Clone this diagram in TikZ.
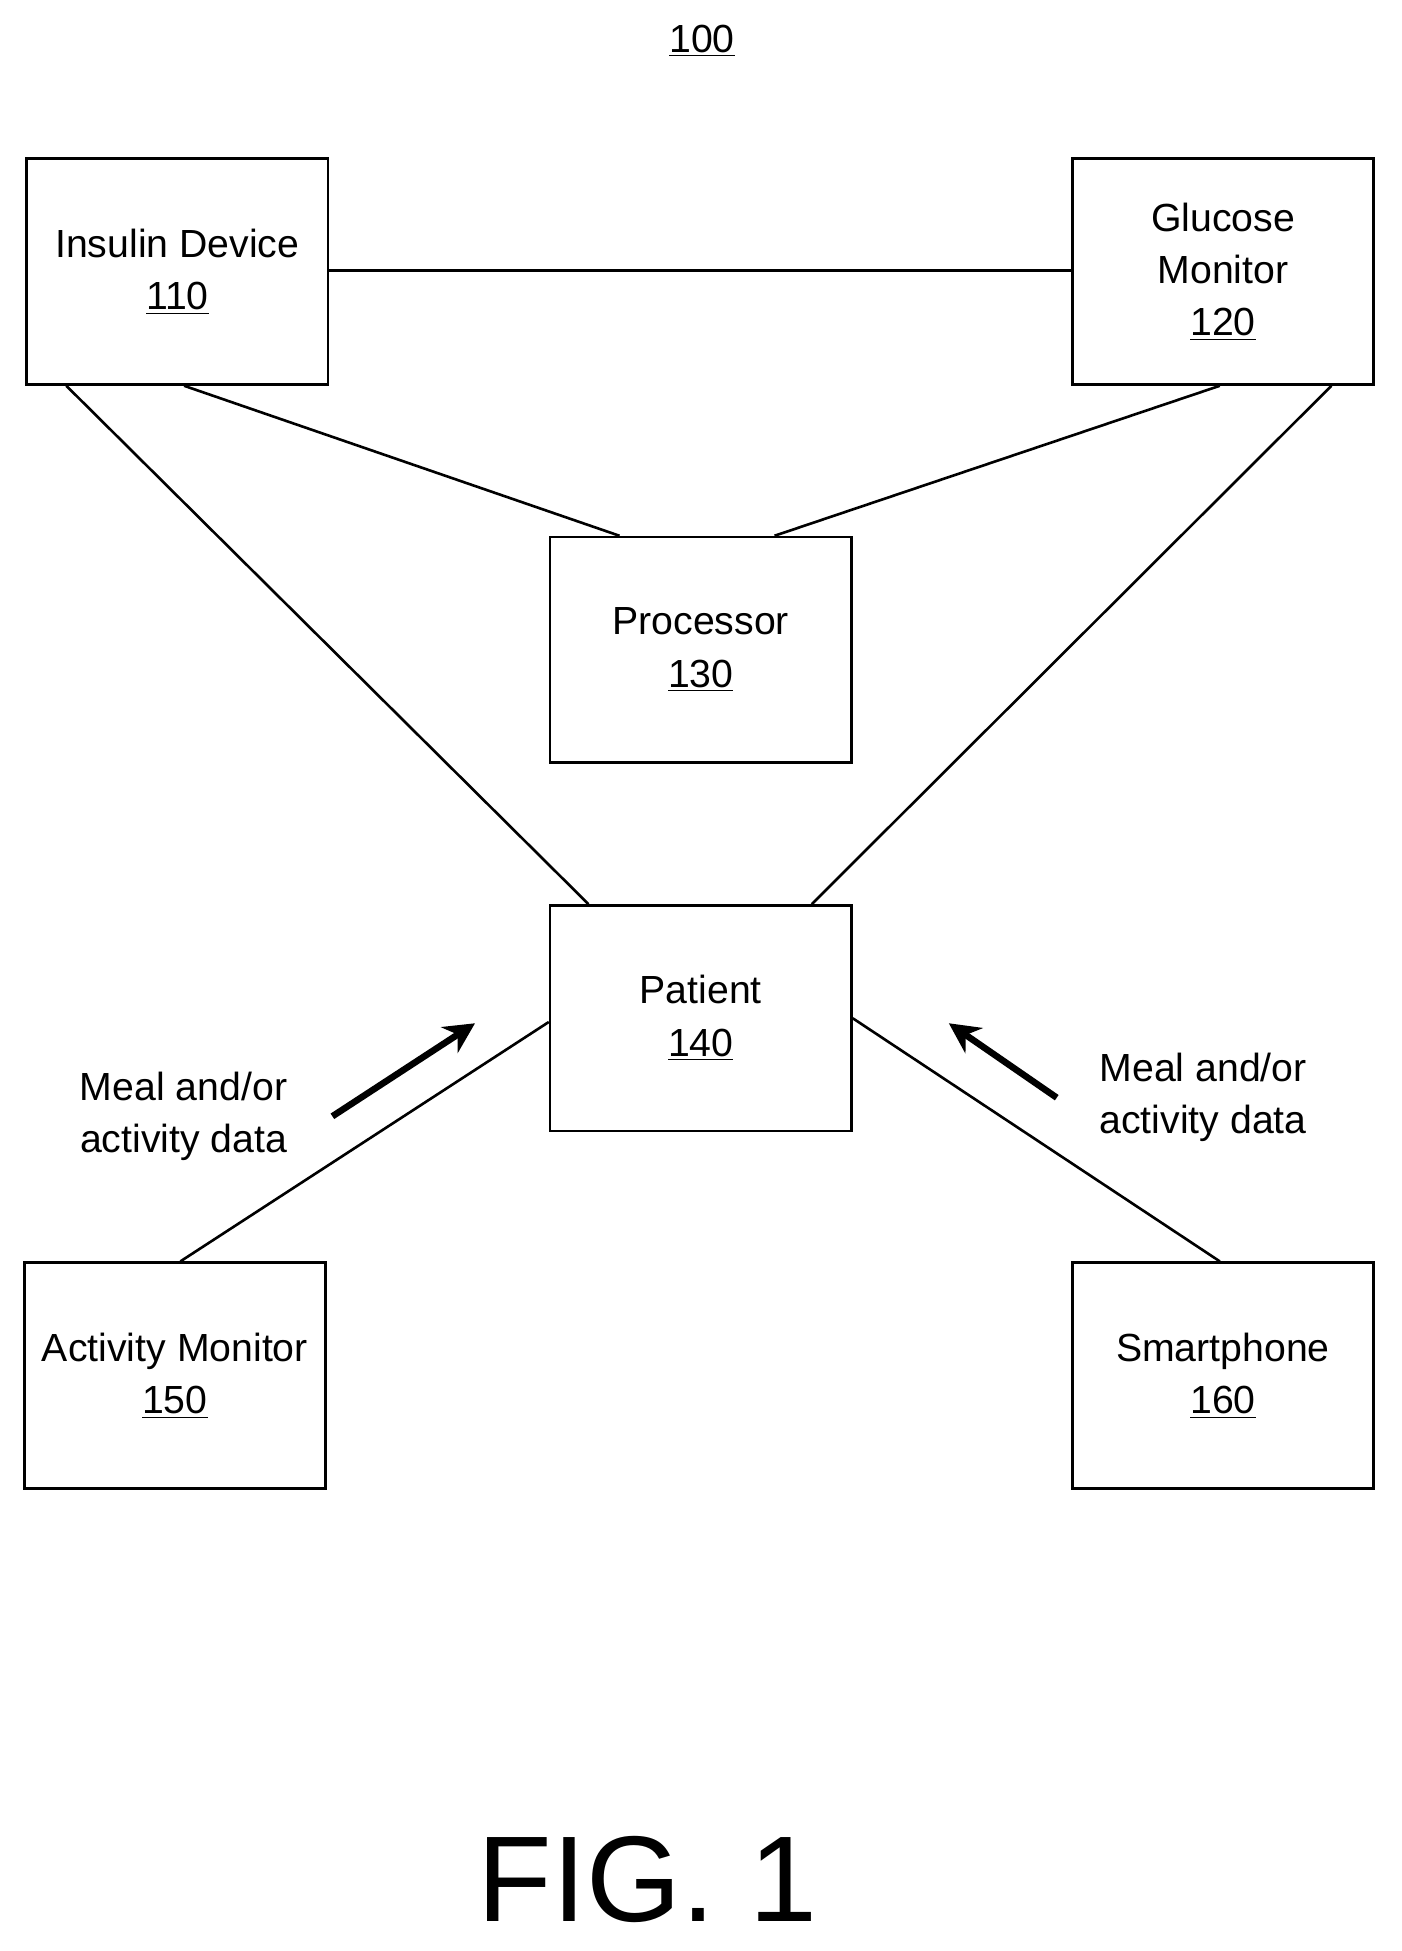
\documentclass[tikz,border=0pt]{standalone}
\usepackage{fontspec}
\setmainfont{Liberation Sans}
\usetikzlibrary{calc,arrows.meta}
\begin{document}
\begin{tikzpicture}[x=0.02cm,y=-0.02cm,
    box/.style={draw,line width=1.2pt,minimum width=4.86cm,minimum height=3.64cm,align=center,font=\fontsize{18}{24}\selectfont},
    link/.style={line width=1.2pt},
    flow/.style={line width=3pt,-{Stealth[length=14pt,width=14pt]}},
    note/.style={align=center,font=\fontsize{18}{24}\selectfont}]
            \useasboundingbox (0,0) rectangle (1130,1573);
            \node (T) at (566,33) {\fontsize{18}{22}\selectfont\underline{100}};
            \node[box] (Ins) at (143,219) {Insulin Device\\\underline{110}};
            \node[box] (Glu) at (986,219) {Glucose\\Monitor\\\underline{120}};
            \node[box] (Proc) at (565,524) {Processor\\\underline{130}};
            \node[box] (Pat) at (565,821) {Patient\\\underline{140}};
            \node[box] (Act) at (141,1109) {Activity Monitor\\\underline{150}};
            \node[box] (Smart) at (986,1109) {Smartphone\\\underline{160}};
            \node[note] (L1) at (148,900) {Meal and/or\\activity data};
            \node[note] (L2) at (970,885) {Meal and/or\\activity data};
            \node (Fig) at (522,1515) {\fontsize{56}{60}\selectfont FIG. 1};
            \draw[link] (Ins.east |- 0,218) -- (Glu.west |- 0,218);
            \draw[link] ($(Ins.south west)+(33,0)$) -- ($(Pat.north west)+(32,0)$);
            \draw[link] ($(Ins.south west)+(128,0)$) -- ($(Proc.north west)+(57,0)$);
            \draw[link] ($(Glu.south west)+(120,0)$) -- ($(Proc.north west)+(182,0)$);
            \draw[link] ($(Glu.south west)+(210,0)$) -- ($(Pat.north west)+(212,0)$);
            \draw[link] ($(Act.north west)+(127,0)$) -- ($(Pat.north west)+(0,95)$);
            \draw[link] ($(Smart.north west)+(120,0)$) -- ($(Pat.north east)+(0,92)$);
            \coordinate (a1) at (268,900);
            \coordinate (a2) at (383,825);
            \coordinate (b1) at (852,885);
            \coordinate (b2) at (765,825);
            \draw[flow] (a1) -- (a2);
            \draw[flow] (b1) -- (b2);
        \end{tikzpicture}
\end{document}
